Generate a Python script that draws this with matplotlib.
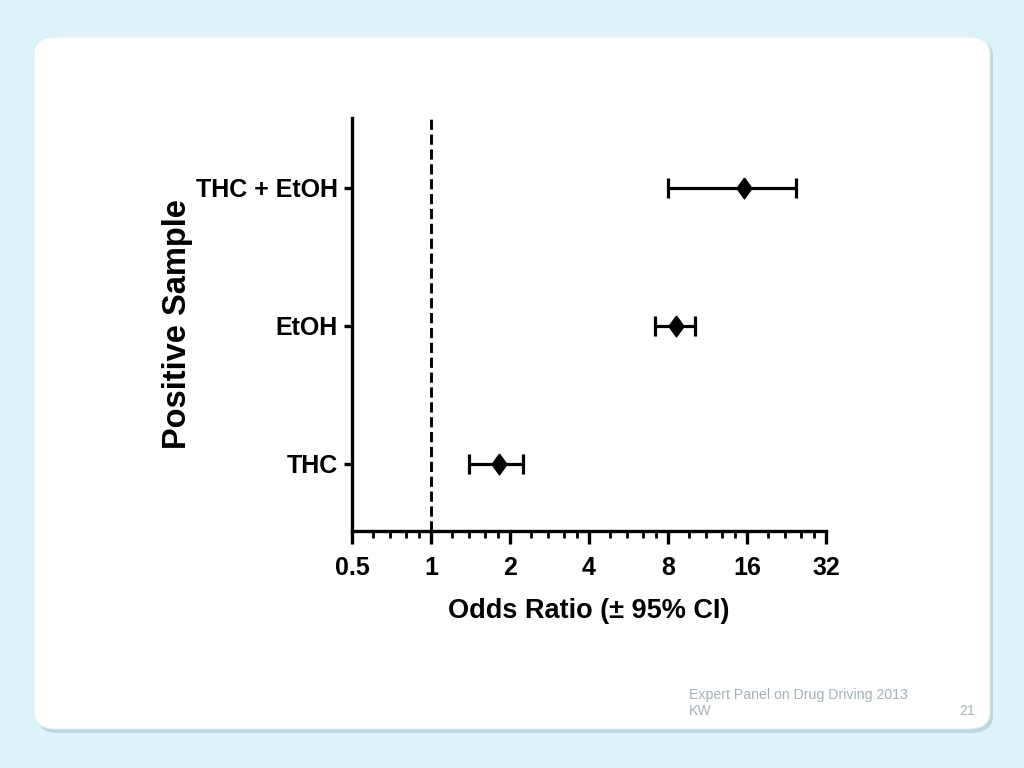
import matplotlib
matplotlib.use("Agg")
import matplotlib.pyplot as plt
from matplotlib import font_manager
from matplotlib.patches import FancyBboxPatch
from matplotlib.ticker import FixedLocator, FixedFormatter, NullFormatter

# ---- data ----
categories = ["THC", "EtOH", "THC + EtOH"]
odds_ratio = [1.82, 8.6, 15.6]
ci_low = [1.40, 7.15, 8.0]
ci_high = [2.24, 10.1, 24.5]
x_ticks = [0.5, 1, 2, 4, 8, 16, 32]
x_tick_labels = ["0.5", "1", "2", "4", "8", "16", "32"]
x_minor = [0.6, 0.7, 0.8, 0.9, 1.2, 1.4, 1.6, 1.8, 2.4, 2.8, 3.2, 3.6,
           4.8, 5.6, 6.4, 7.2, 9.6, 11.2, 12.8, 14.4, 19.2, 22.4, 25.6, 28.8]

names = {f.name for f in font_manager.fontManager.ttflist}
narrow = "Liberation Sans Narrow" if "Liberation Sans Narrow" in names else "Liberation Sans"
cond = [narrow, "DejaVu Sans"]
sans = ["Liberation Sans", "DejaVu Sans"]

fig = plt.figure(figsize=(10.24, 7.68), dpi=100)
fig.patch.set_facecolor("#dcf3f8")

# slide card with shadow
W, H = 1024, 768
shadow = FancyBboxPatch((37 / W, (768 - 733) / H), 956 / W, 694 / H,
                        boxstyle="round,pad=0,rounding_size=0.022",
                        transform=fig.transFigure, facecolor="#b4cfd6",
                        edgecolor="none", alpha=0.8, zorder=-3)
card = FancyBboxPatch((34 / W, (768 - 729) / H), 956 / W, 692 / H,
                      boxstyle="round,pad=0,rounding_size=0.022",
                      transform=fig.transFigure, facecolor="white",
                      edgecolor="#e6eef0", linewidth=0.8, zorder=-2)
fig.patches.extend([shadow, card])

ax = fig.add_axes([352 / W, 1 - 531 / H, (826 - 352) / W, (531 - 118) / H])
ax.set_zorder(1)
ax.set_facecolor("none")
ax.set_xscale("log", base=2)
ax.set_xlim(0.5, 32)
ax.set_ylim(-0.486, 2.507)

diamond = [(0, 1), (0.72, 0), (0, -1), (-0.72, 0), (0, 1)]
ypos = list(range(len(categories)))
xerr = [[o - l for o, l in zip(odds_ratio, ci_low)],
        [h - o for o, h in zip(odds_ratio, ci_high)]]
ax.errorbar(odds_ratio, ypos, xerr=xerr, fmt="none", ecolor="black",
            elinewidth=2.3, capsize=7.5, capthick=2.3, zorder=3)
ax.plot(odds_ratio, ypos, linestyle="none", marker=diamond, markersize=15,
        color="black", zorder=4)
ax.axvline(1, color="black", linewidth=2.1, linestyle=(0, (3.5, 1.6)), zorder=2)

ax.xaxis.set_major_locator(FixedLocator(x_ticks))
ax.xaxis.set_major_formatter(FixedFormatter(x_tick_labels))
ax.xaxis.set_minor_locator(FixedLocator(x_minor))
ax.xaxis.set_minor_formatter(NullFormatter())
ax.set_yticks(ypos)
ax.set_yticklabels(categories)

for s in ["top", "right"]:
    ax.spines[s].set_visible(False)
for s in ["left", "bottom"]:
    ax.spines[s].set_linewidth(2.4)

ax.tick_params(axis="x", which="major", length=9, width=2.4, direction="out", pad=9)
ax.tick_params(axis="x", which="minor", length=5, width=2.0, direction="out")
ax.tick_params(axis="y", which="major", length=6, width=2.4, direction="out", pad=4)

for lab in ax.get_xticklabels() + ax.get_yticklabels():
    lab.set_family(cond)
    lab.set_fontweight("bold")
    lab.set_fontsize(18)

ax.set_xlabel("Odds Ratio (± 95% CI)", family=cond, fontweight="bold",
              fontsize=19.5, labelpad=13)
ax.set_ylabel("Positive Sample", family=sans, fontweight="bold",
              fontsize=23.5, labelpad=0)
ax.yaxis.set_label_coords(-0.336, 0.5)

foot = "#a3b1b7"
fig.text(689 / W, 1 - 695 / H, "Expert Panel on Drug Driving 2013",
         family=sans, fontsize=10.2, color=foot, va="center")
fig.text(689 / W, 1 - 711 / H, "KW", family=sans, fontsize=10.2,
         color=foot, va="center")
fig.text(975 / W, 1 - 711 / H, "21", family=sans, fontsize=10.2,
         color=foot, va="center", ha="right")

fig.savefig("out.png", dpi=100, facecolor=fig.get_facecolor())
